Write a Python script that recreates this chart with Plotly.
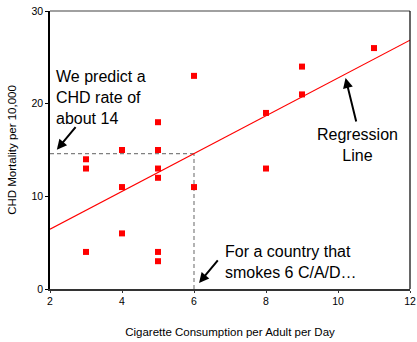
import plotly.graph_objects as go

cig = [3, 3, 3, 4, 4, 4, 5, 5, 5, 5, 5, 5, 6, 6, 8, 8, 9, 9, 11]
chd = [14, 13, 4, 15, 11, 6, 18, 15, 13, 12, 4, 3, 23, 11, 19, 13, 24, 21, 26]
intercept = 2.37
slope = 2.04
x_pred = 6
x_ticks = [2, 4, 6, 8, 10, 12]
y_ticks = [0, 10, 20, 30]

line_x = [2, 12]
line_y = [intercept + slope * v for v in line_x]
y_pred = intercept + slope * x_pred

fig = go.Figure()
fig.add_trace(go.Scatter(x=[2, x_pred], y=[y_pred, y_pred], mode="lines",
                         line=dict(color="#808080", width=1.2, dash="4px,3px"), hoverinfo="skip"))
fig.add_trace(go.Scatter(x=[x_pred, x_pred], y=[0, y_pred], mode="lines",
                         line=dict(color="#808080", width=1.2, dash="4px,3px"), hoverinfo="skip"))
fig.add_trace(go.Scatter(x=line_x, y=line_y, mode="lines",
                         line=dict(color="#ff0000", width=1.2)))
fig.add_trace(go.Scatter(x=cig, y=chd, mode="markers",
                         marker=dict(symbol="square", size=6, color="#ff0000",
                                     line=dict(width=0))))

fig.add_shape(type="line", xref="paper", yref="paper", x0=0, x1=1, y0=1, y1=1,
              line=dict(color="#808080", width=1.5))
fig.add_shape(type="line", xref="paper", yref="paper", x0=1, x1=1, y0=0, y1=1,
              line=dict(color="black", width=1.2))

font_ann = dict(family="Liberation Sans, Arial, sans-serif", size=16, color="black")
fig.add_annotation(x=2.12, y=24.1, xref="x", yref="y", text="We predict a<br>CHD rate of<br>about 14",
                   showarrow=False, xanchor="left", yanchor="top", align="left", font=font_ann)
fig.add_annotation(x=2.19, y=15.03, ax=20, ay=-24, xref="x", yref="y", text="",
                   showarrow=True, arrowhead=2, arrowsize=1, arrowwidth=2, arrowcolor="black")
fig.add_annotation(x=10.55, y=17.8, xref="x", yref="y", text="Regression<br>Line",
                   showarrow=False, xanchor="center", yanchor="top", align="center", font=font_ann)
fig.add_annotation(x=10.21, y=22.76, ax=11, ay=45, xref="x", yref="y", text="",
                   showarrow=True, arrowhead=2, arrowsize=1, arrowwidth=2, arrowcolor="black")
fig.add_annotation(x=6.81, y=5.2, xref="x", yref="y", text="For a country that<br>smokes 6 C/A/D…",
                   showarrow=False, xanchor="left", yanchor="top", align="left", font=font_ann)
fig.add_annotation(x=6.14, y=0.65, ax=20, ay=-24, xref="x", yref="y", text="",
                   showarrow=True, arrowhead=2, arrowsize=1, arrowwidth=2, arrowcolor="black")

fig.update_layout(
    width=417, height=342,
    margin=dict(l=50, r=7, t=11, b=53),
    paper_bgcolor="white", plot_bgcolor="white",
    showlegend=False,
    font=dict(family="Liberation Sans, Arial, sans-serif", size=10.5, color="black"),
    xaxis=dict(range=[2, 12], tickvals=x_ticks, showgrid=False, zeroline=False,
               automargin=False,
               showline=True, linecolor="#333333", linewidth=1.5,
               ticks="outside", ticklen=2, tickcolor="#333333",
               title=dict(text="Cigarette Consumption per Adult per Day", font=dict(size=11.5), standoff=22)),
    yaxis=dict(range=[0, 30], tickvals=y_ticks, showgrid=False, zeroline=False,
               automargin=False,
               showline=True, linecolor="black", linewidth=1.5,
               ticks="outside", ticklen=3, tickcolor="black",
               title=dict(text="CHD Mortality per 10,000", font=dict(size=11.5), standoff=12)),
)

fig.write_html("out.html", config={"displayModeBar": False},
               post_script="document.body.style.margin='0';document.body.style.overflow='hidden';")
